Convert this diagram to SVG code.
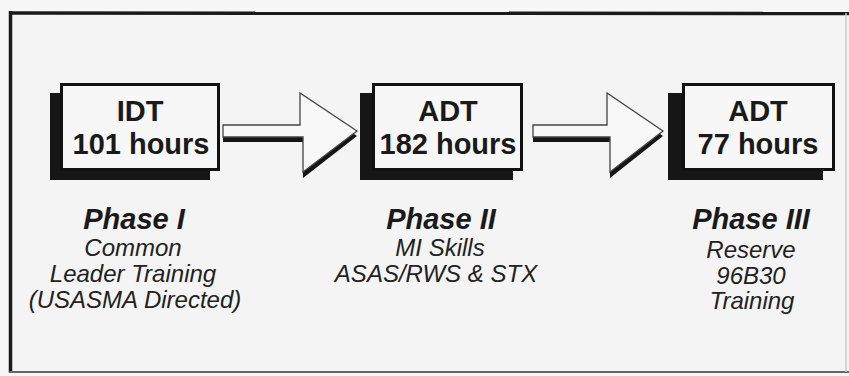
<svg xmlns="http://www.w3.org/2000/svg" width="849" height="376" viewBox="0 0 849 376">
<style>
.frame{fill:#f4f4f4;stroke:none}
.shadow{fill:#161616}
.box{fill:#f7f7f7;stroke:#111;stroke-width:3}
.bt{font-family:"Liberation Sans",Arial,sans-serif;font-weight:bold;font-size:29px;fill:#1a1a1a;text-anchor:middle}
.ph{font-family:"Liberation Sans",Arial,sans-serif;font-weight:bold;font-style:italic;font-size:29px;fill:#1a1a1a;text-anchor:middle}
.ds{font-family:"Liberation Sans",Arial,sans-serif;font-style:italic;font-size:24px;fill:#222;text-anchor:middle}
.arr{fill:#f8f8f8;stroke:#444;stroke-width:1.3;stroke-linejoin:miter}
.arrs{fill:#151515}
</style>
<rect x="0" y="0" width="849" height="376" fill="#f7f7f7"/>
<g id="frame">
<rect class="frame" x="10" y="13" width="839" height="359"/>
<line x1="10.5" y1="11" x2="10.5" y2="373" stroke="#1a1a1a" stroke-width="3.5"/>
<line x1="9" y1="13" x2="849" y2="13.5" stroke="#1a1a1a" stroke-width="3.5"/>
<line x1="9" y1="372" x2="849" y2="372" stroke="#666" stroke-width="2"/>
<line x1="846" y1="13" x2="846" y2="372" stroke="#ccc" stroke-width="1.5"/>
</g>
<g id="connectors">
<g id="arrow1">
<polygon class="arrs" points="223,130 300,130 300,98 357,136 303,178 303,142 223,142"/>
<polygon class="arr" points="223,125 300,125 300,93 357,131 303,172 303,137 223,137"/>
</g>
<g id="arrow2">
<polygon class="arrs" points="533,130 607,130 607,98 663,136 610,178 610,142 533,142"/>
<polygon class="arr" points="533,125 607,125 607,93 663,131 610,172 610,137 533,137"/>
</g>
</g>
<g id="node1">
<rect class="shadow" x="50" y="93" width="160" height="87"/>
<rect class="box" x="61.5" y="84.5" width="157" height="85"/>
<text class="bt" x="140" y="121">IDT</text>
<text class="bt" x="141" y="154">101 hours</text>
</g>
<g id="node2">
<rect class="shadow" x="360" y="93" width="153" height="87"/>
<rect class="box" x="373.5" y="84.5" width="148" height="85"/>
<text class="bt" x="448" y="121">ADT</text>
<text class="bt" x="448" y="154">182 hours</text>
</g>
<g id="node3">
<rect class="shadow" x="668" y="93" width="155" height="87"/>
<rect class="box" x="683.5" y="84.5" width="150" height="85"/>
<text class="bt" x="758" y="121">ADT</text>
<text class="bt" x="758" y="154">77 hours</text>
</g>
<g id="label1">
<text class="ph" x="134" y="229">Phase I</text>
<text class="ds" x="133" y="256">Common</text>
<text class="ds" x="133" y="282">Leader Training</text>
<text class="ds" x="135" y="308">(USASMA Directed)</text>
</g>
<g id="label2">
<text class="ph" x="441" y="229">Phase II</text>
<text class="ds" x="440" y="256">MI Skills</text>
<text class="ds" x="436" y="282">ASAS/RWS &amp; STX</text>
</g>
<g id="label3">
<text class="ph" x="751" y="229">Phase III</text>
<text class="ds" x="751" y="258">Reserve</text>
<text class="ds" x="751" y="284">96B30</text>
<text class="ds" x="752" y="309">Training</text>
</g>
</svg>
